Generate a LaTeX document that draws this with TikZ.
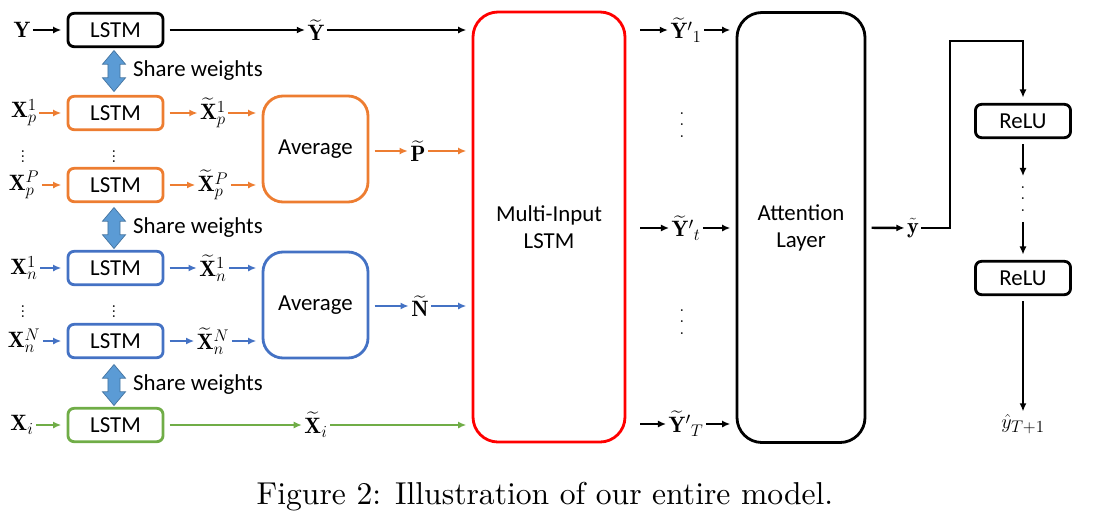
\documentclass[tikz,border=0pt]{standalone}
\usepackage{amsmath}
\usepackage{fontspec}
\setsansfont{Carlito}
\newfontfamily\capfont{lmroman10-regular.otf}
\usetikzlibrary{arrows.meta,shapes.arrows}
\definecolor{orng}{RGB}{237,125,49}
\definecolor{blu}{RGB}{68,114,196}
\definecolor{grn}{RGB}{112,173,71}
\definecolor{shr}{RGB}{91,155,213}
\newcommand{\tallvdots}{\vbox{\baselineskip=9.5pt\lineskiplimit=0pt\hbox{.}\hbox{.}\hbox{.}}}
\tikzstyle{lbl} = [inner sep=2pt, font={\fontsize{19}{22}\selectfont}]
\tikzstyle{dots} = [lbl, inner sep=0pt]
\tikzstyle{box} = [draw, line width=2.4pt, rounded corners=0.18cm, minimum width=2.85cm, minimum height=1.0cm, outer sep=0.2cm, align=center, font={\sffamily\fontsize{19.5}{23}\selectfont}]
\tikzstyle{avgbox} = [box, rounded corners=0.6cm, minimum width=3.15cm, minimum height=3.18cm]
\tikzstyle{bigbox} = [box, rounded corners=0.75cm, minimum height=12.9cm]
\tikzstyle{link} = [-{Latex[length=7pt,width=6pt]}, line width=1.6pt]
\tikzstyle{blink} = [link, line width=2pt]
\tikzstyle{share} = [shape=double arrow, rotate=90, fill=shr, draw=shr!75!black, line width=0.6pt, inner xsep=0pt, inner ysep=0.17cm, minimum height=1.23cm, double arrow head extend=0.165cm, double arrow tip angle=80, double arrow head indent=0cm]
\tikzstyle{swtext} = [anchor=west, inner sep=0pt, font={\sffamily\fontsize{19.5}{23}\selectfont}]

\begin{document}
\begin{tikzpicture}[x=0.03cm, y=-0.03cm]
	\useasboundingbox (0,0) rectangle (1093,529);
	% target series
	\node[lbl] (y) at (22,30) {$\mathbf{Y}$};
	\node[box] (ly) at (115.5,30) {LSTM};
	\node[lbl] (yt) at (316,30) {$\widetilde{\mathbf{Y}}$};
	\node[share] (sw1) at (114,71) {};
	\node[swtext] (st1) at (133,71) {Share weights};
	% positive series
	\node[lbl] (xp1) at (24,113) {$\mathbf{X}_p^1$};
	\node[box, draw=orng] (lp1) at (115.5,113) {LSTM};
	\node[lbl] (xtp1) at (213,113) {$\widetilde{\mathbf{X}}_p^1$};
	\node[dots] (dxp) at (23,153) {$\vdots$};
	\node[dots] (dlp) at (114,153) {$\vdots$};
	\node[lbl] (xpP) at (24,185) {$\mathbf{X}_p^P$};
	\node[box, draw=orng] (lpP) at (115.5,185) {LSTM};
	\node[lbl] (xtpP) at (213,185) {$\widetilde{\mathbf{X}}_p^P$};
	\node[avgbox, draw=orng] (avgp) at (315.5,149) {Average};
	\node[lbl] (pt) at (418,151) {$\widetilde{\mathbf{P}}$};
	\node[share] (sw2) at (114,228) {};
	\node[swtext] (st2) at (133,228) {Share weights};
	% negative series
	\node[lbl] (xn1) at (24,268) {$\mathbf{X}_n^1$};
	\node[box, draw=blu] (ln1) at (115.5,268) {LSTM};
	\node[lbl] (xtn1) at (213,268) {$\widetilde{\mathbf{X}}_n^1$};
	\node[dots] (dxn) at (23,308) {$\vdots$};
	\node[dots] (dln) at (114,308) {$\vdots$};
	\node[lbl] (xnN) at (24,341) {$\mathbf{X}_n^N$};
	\node[box, draw=blu] (lnN) at (115.5,341) {LSTM};
	\node[lbl] (xtnN) at (213,341) {$\widetilde{\mathbf{X}}_n^N$};
	\node[avgbox, draw=blu] (avgn) at (315.5,305) {Average};
	\node[lbl] (nt) at (420,306) {$\widetilde{\mathbf{N}}$};
	\node[share] (sw3) at (114,385) {};
	\node[swtext] (st3) at (133,385) {Share weights};
	% independent series
	\node[lbl] (xi) at (22,425) {$\mathbf{X}_i$};
	\node[box, draw=grn] (li) at (115.5,425) {LSTM};
	\node[lbl] (xti) at (316,425) {$\widetilde{\mathbf{X}}_i$};
	% multi-input lstm and attention
	\node[bigbox, draw=red, minimum width=4.56cm] (mil) at (549,227) {Multi-Input\\LSTM};
	\node[lbl] (yp1) at (686,30) {$\widetilde{\mathbf{Y}}'{}_1$};
	\node[dots] (dr1) at (682,125) {\tallvdots};
	\node[lbl] (ypt) at (686,228) {$\widetilde{\mathbf{Y}}'{}_t$};
	\node[dots] (dr2) at (682,322) {\tallvdots};
	\node[lbl] (ypT) at (686,424) {$\widetilde{\mathbf{Y}}'{}_T$};
	\node[bigbox, minimum width=3.84cm] (att) at (801,227.5) {Attention\\Layer};
	\node[lbl] (ytil) at (913,228) {$\tilde{\mathbf{y}}$};
	% output layers
	\coordinate (bend) at (950,41);
	\node[box] (r1) at (1023,121) {ReLU};
	\node[dots, inner sep=9pt] (rd) at (1023,199) {\tallvdots};
	\node[box] (r2) at (1023,278) {ReLU};
	\node[lbl] (yh) at (1023,424) {$\hat{y}_{T+1}$};
	\node[inner sep=0pt, font={\capfont\fontsize{27}{32}\selectfont}] (cap) at (545,497) {Figure 2: Illustration of our entire model.};

	\draw[blink] (y) -- (ly);
	\draw[blink] (ly) -- (yt);
	\draw[blink] (yt) -- (yt -| mil.west);
	\begin{scope}[orng]
		\draw[link] (xp1) -- (lp1);
		\draw[link] (lp1) -- (xtp1);
		\draw[link] (xtp1) -- (xtp1 -| avgp.west);
		\draw[link] (xpP) -- (lpP);
		\draw[link] (lpP) -- (xtpP);
		\draw[link] (xtpP) -- (xtpP -| avgp.west);
		\draw[link] (pt -| avgp.east) -- (pt);
		\draw[link] (pt) -- (pt -| mil.west);
	\end{scope}
	\begin{scope}[blu]
		\draw[link] (xn1) -- (ln1);
		\draw[link] (ln1) -- (xtn1);
		\draw[link] (xtn1) -- (xtn1 -| avgn.west);
		\draw[link] (xnN) -- (lnN);
		\draw[link] (lnN) -- (xtnN);
		\draw[link] (xtnN) -- (xtnN -| avgn.west);
		\draw[link] (nt -| avgn.east) -- (nt);
		\draw[link] (nt) -- (nt -| mil.west);
	\end{scope}
	\begin{scope}[grn]
		\draw[link] (xi) -- (li);
		\draw[link] (li) -- (xti);
		\draw[link] (xti) -- (xti -| mil.west);
	\end{scope}
	\foreach \n in {yp1,ypt,ypT}{
		\draw[blink, shorten <=0.25cm] (\n -| mil.east) -- (\n);
		\draw[blink] (\n) -- (\n -| att.west);
	}
	\draw[blink] (att) -- (ytil);
	\draw[line width=1.6pt, -{Latex[length=7pt,width=6pt]}] (ytil) -| (bend) -| (r1);
	\draw[link] (r1) -- (rd);
	\draw[link] (rd) -- (r2);
	\draw[link] (r2) -- (yh);
\end{tikzpicture}
\end{document}
